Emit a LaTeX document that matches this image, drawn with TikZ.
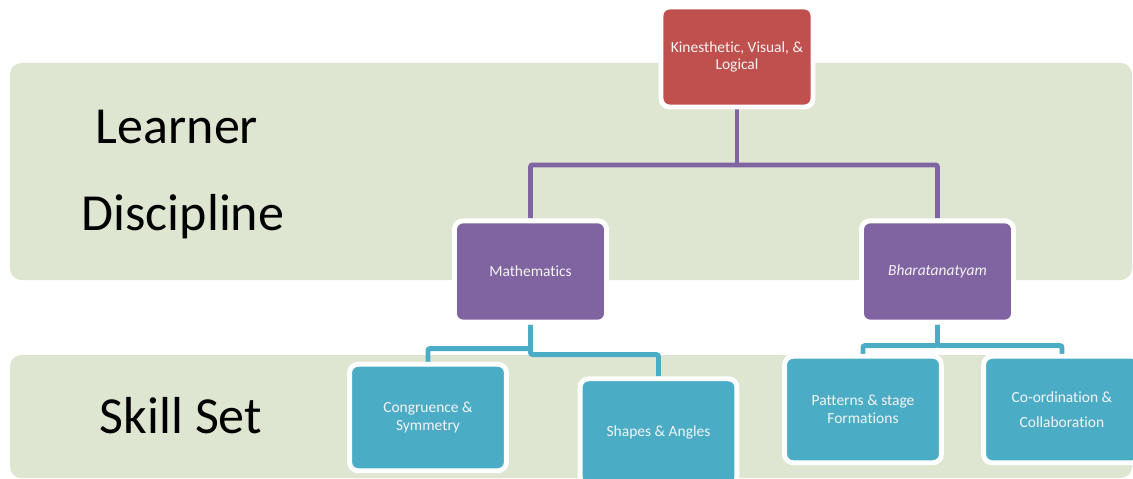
\documentclass[tikz,border=0pt]{standalone}
\usepackage{fontspec}
\setmainfont{Carlito}[Ligatures=NoCommon]
\usetikzlibrary{backgrounds}
\definecolor{bandgreen}{HTML}{DEE6D1}
\definecolor{boxred}{HTML}{C0504D}
\definecolor{boxpurple}{HTML}{8064A2}
\definecolor{boxblue}{HTML}{4BACC6}
\definecolor{boxtext}{HTML}{F4F4F4}

\begin{document}
\begin{tikzpicture}[x=0.025cm, y=-0.025cm,
        box/.style={draw=white, line width=3.5pt, rounded corners=6pt, text=boxtext, align=center, inner sep=0pt, font=\fontsize{11}{12.5}\selectfont},
        topbox/.style={box, fill=boxred, minimum width=3.8cm, minimum height=2.5cm},
        subbox/.style={box, fill=boxpurple, minimum width=3.8cm, minimum height=2.53cm},
        skillbox/.style={box, fill=boxblue, minimum width=3.92cm, minimum height=2.66cm},
        bandlabel/.style={anchor=base, font=\fontsize{37}{37}\selectfont},
        pline/.style={boxpurple, line width=3.5pt, rounded corners=1.5pt},
        bline/.style={boxblue, line width=3.5pt, rounded corners=1.5pt}]

                \useasboundingbox (0,0) rectangle (1133,479);

                \node [bandlabel] (learner) at (177,143) {Learner};
                \node [bandlabel] (discipline) at (183,230) {Discipline};
                \node [bandlabel] (skillset) at (181,433) {Skill Set};

                \node [topbox] (kvl) at (737,57) {Kinesthetic, Visual, \&\\Logical};
                \node [subbox] (maths) at (530.5,271.5) {Mathematics};
                \node [subbox] (bharat) at (937.5,271.5) {\itshape Bharatanatyam};

                \node [skillbox] (congr) at (428,417.5) {Congruence \&\\Symmetry};
                \node [skillbox] (shapes) at (658.5,432) {Shapes \& Angles};
                \node [skillbox] (patterns) at (863,409.5) {Patterns \& stage\\Formations};
                \node [skillbox] (coord) at (1062,409.5) {Co-ordination \&\\[5pt]Collaboration};

                \coordinate (kvljoin) at (737,165);

                \begin{scope}[on background layer]
                    \fill [bandgreen, rounded corners=8pt] (10,63) rectangle (1132,280);
                    \fill [bandgreen, rounded corners=8pt] (10,355) rectangle (1132,478);

                    \draw [pline] (kvl.south) -- (kvljoin);
                    \draw [pline] (kvljoin) -| (maths.north);
                    \draw [pline] (kvljoin) -| (bharat.north);

                    \draw [bline] (maths.south) --++ (0,24) -| (congr.north);
                    \draw [bline] (maths.south) --++ (0,30) -| (shapes.north);
                    \draw [bline] (bharat.south) --++ (0,21) -| (patterns.north);
                    \draw [bline] (bharat.south) --++ (0,21) -| (coord.north);
                \end{scope}

            \end{tikzpicture}
\end{document}
